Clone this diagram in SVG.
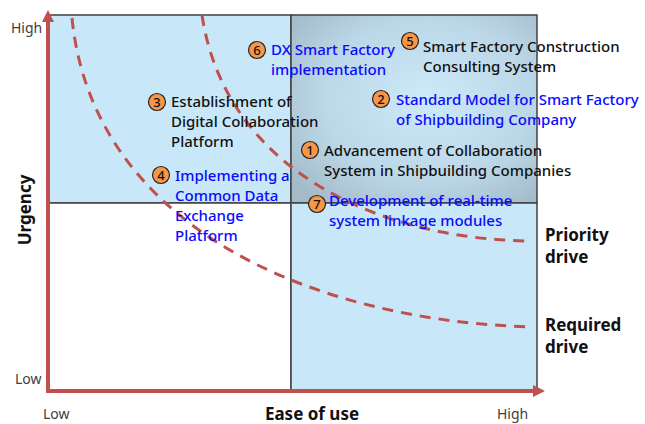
<svg xmlns="http://www.w3.org/2000/svg" width="645" height="424" viewBox="0 0 645 424">
<defs>
<radialGradient id="tr" cx="0.55" cy="0.45" r="0.7">
<stop offset="0" stop-color="#cdeafa"/>
<stop offset="0.6" stop-color="#bcd8e8"/>
<stop offset="1" stop-color="#a3bac8"/>
</radialGradient>
<marker id="ah" viewBox="0 0 12 12" refX="2" refY="6" markerWidth="12" markerHeight="12" markerUnits="userSpaceOnUse" orient="auto">
<path d="M0,0 L12,6 L0,12 z" fill="#c0504d"/>
</marker>
</defs>
<style>
.q{stroke:#404040;stroke-width:1.5}
.curve{fill:none;stroke:#c0504d;stroke-width:3;stroke-dasharray:11 8}
.axis{stroke:#c0504d;stroke-width:4;fill:none}
.t{font-family:"Noto Sans","Liberation Sans",sans-serif;font-size:15px;font-weight:500}
.k{fill:#111}
.b{fill:#0a0aff}
.lab{font-family:"Noto Sans","Liberation Sans",sans-serif;font-size:14px;fill:#404040}
.bold{font-family:"Noto Sans","Liberation Sans",sans-serif;font-size:17px;font-weight:bold;fill:#111}
.c{fill:#f79646;stroke:#222;stroke-width:1.2}
.n{font-family:"Noto Sans","Liberation Sans",sans-serif;font-size:13px;font-weight:500;fill:#111;text-anchor:middle}
</style>
<g id="quadrants">
<rect x="48" y="15" width="243" height="188" fill="#c8e8f9" class="q"/>
<rect x="291" y="15" width="246" height="188" fill="url(#tr)" class="q"/>
<rect x="48" y="203" width="243" height="188" fill="#ffffff" class="q"/>
<rect x="291" y="203" width="246" height="188" fill="#c8e8f9" class="q"/>
</g>
<g id="connectors">
<path id="priority-curve" class="curve" d="M202,15 C225,170 380,240 532,241"/>
<path id="required-curve" class="curve" d="M72,18 C92,220 300,320 532,327"/>
<path id="y-axis" class="axis" d="M48,391 L48,20" marker-end="url(#ah)"/>
<path id="x-axis" class="axis" d="M46,391 L535,391" marker-end="url(#ah)"/>
</g>
<g id="axis-labels">
<text class="lab" x="11" y="33">High</text>
<text class="lab" x="15" y="384">Low</text>
<text class="lab" x="43" y="419">Low</text>
<text class="lab" x="497" y="419">High</text>
<text class="bold" x="312" y="420" text-anchor="middle">Ease of use</text>
<text class="bold" transform="translate(31,210) rotate(-90)" text-anchor="middle">Urgency</text>
</g>
<g id="priority-drive"><text class="bold" x="545" y="241">Priority</text><text class="bold" x="545" y="263">drive</text></g>
<g id="required-drive"><text class="bold" x="545" y="331">Required</text><text class="bold" x="545" y="353">drive</text></g>
<g id="item1"><circle class="c" cx="310" cy="150" r="8.5"/><text class="n" x="310" y="155">1</text>
<text class="t k" x="324" y="156">Advancement of Collaboration</text><text class="t k" x="324" y="176">System in Shipbuilding Companies</text></g>
<g id="item2"><circle class="c" cx="381" cy="99" r="8.5"/><text class="n" x="381" y="104">2</text>
<text class="t b" x="396" y="105">Standard Model for Smart Factory</text><text class="t b" x="396" y="125">of Shipbuilding Company</text></g>
<g id="item3"><circle class="c" cx="157" cy="102" r="8.5"/><text class="n" x="157" y="107">3</text>
<text class="t k" x="171" y="107">Establishment of</text><text class="t k" x="171" y="127">Digital Collaboration</text><text class="t k" x="171" y="147">Platform</text></g>
<g id="item4"><circle class="c" cx="161" cy="175" r="8.5"/><text class="n" x="161" y="180">4</text>
<text class="t b" x="175" y="181">Implementing a</text><text class="t b" x="175" y="201">Common Data</text><text class="t b" x="175" y="221">Exchange</text><text class="t b" x="175" y="241">Platform</text></g>
<g id="item5"><circle class="c" cx="410" cy="41" r="8.5"/><text class="n" x="410" y="46">5</text>
<text class="t k" x="423" y="52">Smart Factory Construction</text><text class="t k" x="423" y="72">Consulting System</text></g>
<g id="item6"><circle class="c" cx="257" cy="50" r="8.5"/><text class="n" x="257" y="55">6</text>
<text class="t b" x="271" y="55">DX Smart Factory</text><text class="t b" x="271" y="75">implementation</text></g>
<g id="item7"><circle class="c" cx="317" cy="204" r="8.5"/><text class="n" x="317" y="209">7</text>
<text class="t b" x="329" y="206">Development of real-time</text><text class="t b" x="329" y="226">system linkage modules</text></g>
</svg>
